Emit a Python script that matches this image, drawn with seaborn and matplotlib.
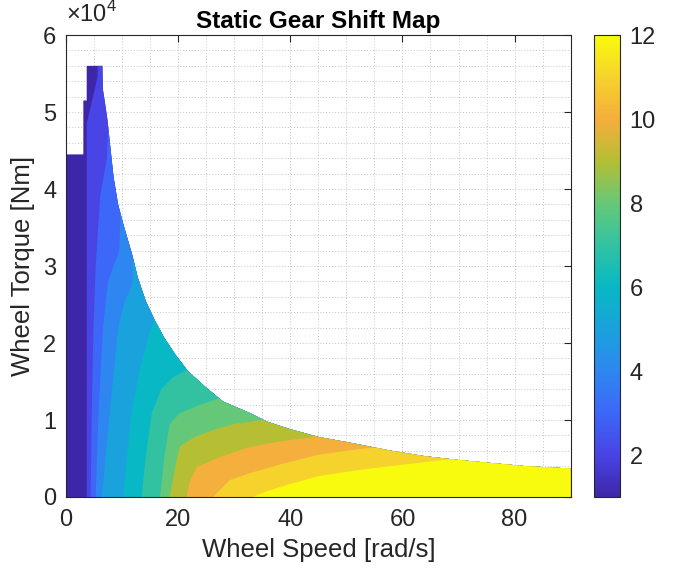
import matplotlib
matplotlib.use("Agg")
import matplotlib.pyplot as plt
from matplotlib.patches import Polygon
from matplotlib.ticker import FuncFormatter, MultipleLocator
import seaborn as sns

# max wheel torque envelope [Nm] vs wheel speed [rad/s]
env_speed = [0, 3.1, 3.1, 3.7, 3.7, 6.5, 6.6, 7.0, 7.4, 7.9, 8.5, 9.3, 10.2, 11.0, 11.8, 12.8,
             14.2, 15.8, 17.5, 19.5, 21.8, 25, 28, 32.8, 35.8, 40, 45, 51, 58, 64, 70, 76, 82, 90]
env_torque = [44500, 44500, 51500, 51500, 56000, 56000, 52900, 51000, 49000, 45500, 41500, 38000,
              35500, 33500, 31500, 28500, 25500, 23000, 20700, 18500, 16300, 14200, 12400, 10900,
              9800, 8800, 7800, 7000, 6000, 5300, 4800, 4400, 4000, 3700]

# shift boundaries: right of / below each curve the gear is >= that gear
g2_speed = [3.7, 3.7, 5.6, 6.2]
g2_torque = [0, 48500, 54500, 65000]
g3_speed = [4.4, 4.6, 4.9, 5.3, 6.1, 7.3, 8.5]
g3_torque = [0, 11000, 22000, 30000, 39000, 44000, 65000]
g4_speed = [5.3, 5.8, 6.6, 7.5, 9.5, 11]
g4_torque = [0, 11000, 22000, 28000, 32000, 65000]
g5_speed = [6.4, 7.8, 9.3, 10.5, 11.8, 13]
g5_torque = [0, 11000, 22000, 25500, 27500, 65000]
g6_speed = [10.2, 11, 11.7, 13, 15, 16.5, 18]
g6_torque = [0, 6000, 11000, 16000, 21700, 24000, 65000]
g7_speed = [13.5, 14.2, 15.3, 17, 19, 21.5, 23]
g7_torque = [0, 5000, 10900, 14000, 15500, 16500, 65000]
g8_speed = [16.8, 17.5, 18.5, 20.3, 24, 28, 30]
g8_torque = [0, 5000, 9500, 10900, 12000, 13000, 65000]
g9_speed = [18.5, 19.5, 20.3, 23, 26.2, 30, 35.1, 37]
g9_torque = [0, 4000, 6600, 7800, 8700, 9500, 10000, 65000]
g10_speed = [21.5, 22, 23.3, 27.5, 32.8, 38, 44, 46]
g10_torque = [0, 1800, 3900, 5200, 6500, 7200, 7800, 65000]
g11_speed = [26.2, 29.2, 32.8, 38, 45, 52, 58, 60]
g11_torque = [0, 2200, 3100, 4200, 5500, 6200, 6600, 65000]
g12_speed = [33.2, 36, 40, 45, 52, 60, 66, 72, 74]
g12_torque = [0, 800, 1700, 2700, 3500, 4200, 4700, 5200, 65000]

gears = list(range(1, 13))
gear_colors = ["#3e26a8", "#4844e6", "#3d68f8", "#2e87f0", "#1aa2dc", "#08b8c4",
               "#32c2a2", "#66c878", "#b4be34", "#f5ae3c", "#f6d22c", "#f9fb0e"]

boundaries = [(g2_speed, g2_torque), (g3_speed, g3_torque), (g4_speed, g4_torque),
              (g5_speed, g5_torque), (g6_speed, g6_torque), (g7_speed, g7_torque),
              (g8_speed, g8_torque), (g9_speed, g9_torque), (g10_speed, g10_torque),
              (g11_speed, g11_torque), (g12_speed, g12_torque)]

sns.set_theme(style="white")
plt.rcParams['font.family'] = ['Liberation Sans', 'DejaVu Sans']
plt.rcParams['mathtext.fontset'] = 'custom'
plt.rcParams['mathtext.rm'] = 'Liberation Sans'

parula = sns.blend_palette(gear_colors, n_colors=256, as_cmap=True)
norm = plt.Normalize(gears[0], gears[-1])

fig = plt.figure(figsize=(6.73, 5.71), dpi=100)
ax = fig.add_axes([0.098, 0.1296, 0.750, 0.809])
cax = fig.add_axes([0.8826, 0.1296, 0.0386, 0.809])

# gear 1 fills the whole envelope, higher gears are painted on top and clipped
env = Polygon(list(zip([0] + env_speed + [90], [0] + env_torque + [0])), closed=True,
              facecolor=parula(norm(gears[0])), lw=0, zorder=2)
ax.add_patch(env)
for g, (sx, ty) in zip(gears[1:], boundaries):
    patch = ax.fill(sx + [95, 95], ty + [70000, 0], color=parula(norm(g)), lw=0, zorder=2)[0]
    patch.set_clip_path(env)

ax.set_xlim(0, 90)
ax.set_ylim(0, 60000)
ax.xaxis.set_major_locator(MultipleLocator(20))
ax.xaxis.set_minor_locator(MultipleLocator(5))
ax.yaxis.set_major_locator(MultipleLocator(10000))
ax.yaxis.set_minor_locator(MultipleLocator(2000))
ax.yaxis.set_major_formatter(FuncFormatter(lambda v, p: f"{v / 1e4:g}"))
ax.grid(which='both', ls=(0, (1, 2)), color='#c4c4c4', lw=0.7, zorder=0)
ax.set_axisbelow(True)
ax.tick_params(which='major', direction='in', length=5, width=0.8, top=True, right=True,
               labelsize=17, colors='#262626')
ax.tick_params(axis='x', pad=9)
ax.tick_params(axis='y', pad=7)
ax.tick_params(which='minor', length=0)
for s in ax.spines.values():
    s.set_color('#262626')
    s.set_linewidth(0.8)

ax.set_xlabel("Wheel Speed [rad/s]", fontsize=18.5, color='#262626', labelpad=5)
ax.set_ylabel("Wheel Torque [Nm]", fontsize=18.5, color='#262626', labelpad=6)
ax.set_title("Static Gear Shift Map", fontsize=17.5, fontweight='bold', color='black', pad=5)
ax.text(0.0, 1.018, r"$\times10^{4}$", transform=ax.transAxes, fontsize=17,
        color='#262626', ha='left', va='bottom')

sm = plt.cm.ScalarMappable(norm=norm, cmap=parula)
cb = fig.colorbar(sm, cax=cax, ticks=[2, 4, 6, 8, 10, 12])
cb.outline.set_edgecolor('#262626')
cb.outline.set_linewidth(0.8)
cax.tick_params(direction='in', length=5, width=0.8, labelsize=17, colors='#262626', pad=7)

fig.savefig("out.png", dpi=100)
